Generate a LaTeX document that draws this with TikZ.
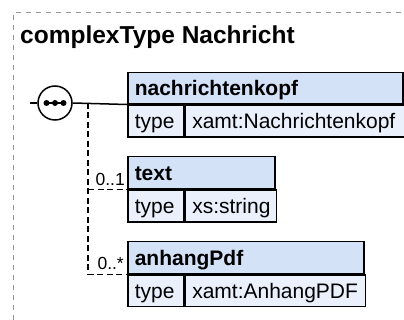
\documentclass[tikz,border=0pt]{standalone}
\usepackage{fontspec}
\setmainfont{Liberation Sans}
\definecolor{hdr}{RGB}{212,226,248}
\definecolor{rowc}{RGB}{234,241,253}
\definecolor{framec}{RGB}{150,150,150}
\begin{document}
\begin{tikzpicture}[x=1pt,y=-1pt,
  cell/.style={draw=black, line width=1.5pt, anchor=north west, inner xsep=7pt, inner ysep=0pt,
    text height=15pt, text depth=0pt, align=left},
  hdrbox/.style={cell, fill=hdr, font=\bfseries\fontsize{21}{21}\selectfont},
  rowbox/.style={cell, fill=rowc, font=\fontsize{21}{21}\selectfont},
  conn/.style={draw=black, line width=1.5pt},
  dconn/.style={draw=black, line width=1.5pt, dash pattern=on 6pt off 3.5pt},
  lbl/.style={font=\fontsize{17.5}{17.5}\selectfont, inner sep=0pt, anchor=base east},
  framel/.style={draw=framec, line width=1pt, dash pattern=on 5pt off 5pt}]
\useasboundingbox (0,0) rectangle (404,320);
\clip (0,0) rectangle (404,320);
% frame
\draw[framel] (13,330) -- (13,13) -- (410,13);
% title
\node[anchor=base west, inner sep=0pt, font=\bfseries\fontsize{24.5}{24.5}\selectfont] (title) at (20,44) {complexType Nachricht};
% nachrichtenkopf
\node[hdrbox, text width=261pt, minimum height=31pt] (nk) at (127,72) {nachrichtenkopf};
\node[rowbox, text width=42pt, minimum height=32pt] (nkt) at (nk.south west) {type};
\node[rowbox, text width=205pt, minimum height=32pt] (nkv) at (nkt.north east) {xamt:Nachrichtenkopf};
% text
\node[hdrbox, text width=133pt, minimum height=32pt] (tx) at (127,156) {text};
\node[rowbox, text width=42pt, minimum height=32pt] (txt) at (tx.south west) {type};
\node[rowbox, text width=77pt, minimum height=32pt] (txv) at (txt.north east) {xs:string};
% anhangPdf
\node[hdrbox, text width=222pt, minimum height=32pt] (ah) at (127,241) {anhangPdf};
\node[rowbox, text width=42pt, minimum height=31pt] (aht) at (ah.south west) {type};
\node[rowbox, text width=166pt, minimum height=31pt] (ahv) at (aht.north east) {xamt:AnhangPDF};
% sequence compositor
\coordinate (start) at (30,103);
\node[circle, draw=black, line width=1.5pt, fill=white, minimum size=34pt, inner sep=0pt] (seq) at (55,103) {};
\draw[conn] (start) -- (seq.west);
\draw[conn] (seq.east) -- (nk.south west);
\draw[line width=1.5pt] ([xshift=-11pt]seq.center) -- ([xshift=11pt]seq.center);
\foreach \dx in {-8.5,0,8.5} \fill ([xshift=\dx pt]seq.center) circle (3pt);
% dashed connectors
\coordinate (j) at (88,103);
\draw[dconn] (j) -- (j |- ah.south west) -- (ah.south west);
\draw[dconn] (j |- tx.south west) -- (tx.south west);
\node[lbl] (l1) at ([xshift=-2pt,yshift=4pt]tx.south west) {0..1};
\node[lbl] (l2) at ([xshift=-3pt,yshift=5pt]ah.south west) {0..*};
\end{tikzpicture}
\end{document}
